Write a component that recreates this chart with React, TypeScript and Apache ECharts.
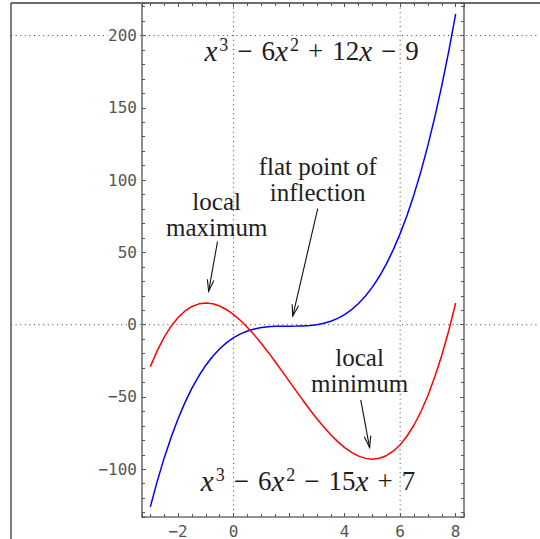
import React, { useEffect, useRef } from 'react';
import * as echarts from 'echarts';

// Sample abscissae and the two cubic curves evaluated at them
const xs = [
  -3, -2.75, -2.5, -2.25, -2, -1.75, -1.5, -1.25, -1, -0.75, -0.5, -0.25, 0, 0.25, 0.5, 0.75,
  1, 1.25, 1.5, 1.75, 2, 2.25, 2.5, 2.75, 3, 3.25, 3.5, 3.75, 4, 4.25, 4.5, 4.75, 5, 5.25, 5.5,
  5.75, 6, 6.25, 6.5, 6.75, 7, 7.25, 7.5, 7.75, 8,
];
// x^3 - 6x^2 + 12x - 9
const blueValues = [
  -126, -108.17, -92.13, -77.77, -65, -53.73, -43.88, -35.33, -28, -21.8, -16.63, -12.39, -9,
  -6.36, -4.38, -2.95, -2, -1.42, -1.13, -1.02, -1, -0.98, -0.88, -0.58, 0, 0.95, 2.38, 4.36, 7,
  10.39, 14.63, 19.8, 26, 33.33, 41.88, 51.73, 63, 75.77, 90.13, 106.17, 124, 143.7, 165.38,
  189.11, 215,
];
// x^3 - 6x^2 - 15x + 7
const redValues = [
  -29, -17.92, -8.63, -1.02, 5, 9.52, 12.63, 14.42, 15, 14.45, 12.88, 10.36, 7, 2.89, -1.88, -7.2,
  -13, -19.17, -25.63, -32.27, -39, -45.73, -52.38, -58.83, -65, -70.8, -76.13, -80.89, -85,
  -88.36, -90.88, -92.45, -93, -92.42, -90.63, -87.52, -83, -76.98, -69.38, -60.08, -49, -36.05,
  -21.13, -4.15, 15,
];

const xRange = [-3.3, 8.3];
const yRange = [-133, 222.5];
const xStep = 2;
const yStep = 50;
const hiddenXLabels = [2];
const guideXs = [0, 6];
const guideYs = [0, 200];

// Formula captions (rich text) and where they sit, in data coordinates
const formulaTexts = [
  '{i|x}{s|3}{o|\u2212}{n|6}{i|x}{s|2}{o|+}{n|12}{i|x}{o|\u2212}{n|9}',
  '{i|x}{s|3}{o|\u2212}{n|6}{i|x}{s|2}{o|\u2212}{n|15}{i|x}{o|+}{n|7}',
];
const formulaAt = [
  [2.81, 189.4],
  [2.68, -107.8],
];

// Annotations: text block centre, arrow tail and arrow tip, in data coordinates
const noteTexts = ['local\nmaximum', 'flat point of\ninflection', 'local\nminimum'];
const noteAt = [
  [-0.61, 76.1],
  [3.03, 100.2],
  [4.54, -31.7],
];
const arrowFrom = [
  [-0.58, 57.5],
  [3.03, 80.2],
  [4.58, -52.0],
];
const arrowTo = [
  [-0.9, 23.1],
  [2.13, 5.9],
  [4.9, -85.0],
];

const W = 540;
const H = 539;
const SERIF = '"Liberation Serif", "Times New Roman", serif';
const MONO = '"DejaVu Sans Mono", monospace';

const minus = (v: number) => (v < 0 ? '\u2212' + Math.abs(v) : String(v));
const isMultiple = (v: number, step: number) => Math.abs(v / step - Math.round(v / step)) < 1e-6;

export default function App() {
  const ref = useRef<HTMLDivElement>(null);

  useEffect(() => {
    const el = ref.current;
    if (!el) return;
    const chart = echarts.init(el, null, { renderer: 'svg', width: W, height: H });

    const frameLine = { show: true, onZero: false, lineStyle: { color: '#707070', width: 1.6 } };
    const tick = { show: true, inside: true, length: 4, lineStyle: { color: '#555', width: 1 } };
    const minorX = { show: true, splitNumber: 4, length: 3, lineStyle: { color: '#555', width: 1 } };
    const minorY = { show: true, splitNumber: 5, length: 3, lineStyle: { color: '#555', width: 1 } };
    const labelFont = { fontFamily: MONO, fontSize: 16, color: '#555' };

    const xAxisBase = {
      type: 'value',
      min: xRange[0],
      max: xRange[1],
      splitNumber: 6,
      axisLine: frameLine,
      axisTick: tick,
      minorTick: minorX,
      splitLine: { show: false },
      z: 5,
    };
    const yAxisBase = {
      type: 'value',
      min: yRange[0],
      max: yRange[1],
      splitNumber: 7,
      axisLine: frameLine,
      axisTick: tick,
      minorTick: minorY,
      splitLine: { show: false },
      z: 5,
    };

    chart.setOption({
      animation: false,
      backgroundColor: '#fff',
      grid: { left: 142, right: 76, top: 3, bottom: 20, containLabel: false },
      xAxis: [
        {
          ...xAxisBase,
          position: 'bottom',
          axisLabel: {
            ...labelFont,
            margin: 6,
            formatter: (v: number) =>
              isMultiple(v, xStep) && !hiddenXLabels.includes(v) ? minus(v) : '',
          },
        },
        { ...xAxisBase, position: 'top', axisLabel: { show: false } },
      ],
      yAxis: [
        {
          ...yAxisBase,
          position: 'left',
          axisLabel: {
            ...labelFont,
            margin: 5,
            backgroundColor: '#fff',
            formatter: (v: number) => (isMultiple(v, yStep) ? minus(v) : ''),
          },
        },
        { ...yAxisBase, position: 'right', axisLabel: { show: false } },
      ],
      series: [
        {
          type: 'line',
          name: 'x^3 - 6x^2 + 12x - 9',
          data: xs.map((x, i) => [x, blueValues[i]]),
          showSymbol: false,
          lineStyle: { color: '#0000ff', width: 1.5 },
          z: 3,
        },
        {
          type: 'line',
          name: 'x^3 - 6x^2 - 15x + 7',
          data: xs.map((x, i) => [x, redValues[i]]),
          showSymbol: false,
          lineStyle: { color: '#ff0000', width: 1.5 },
          z: 3,
        },
      ],
    });

    const toPx = (p: number[]) =>
      chart.convertToPixel({ xAxisIndex: 0, yAxisIndex: 0 }, p) as number[];

    const dotted = { stroke: '#444', lineWidth: 1, lineDash: [1, 3.6] };
    const elements: any[] = [];

    // outer frame (left and top edges)
    elements.push({ type: 'line', z: 1, shape: { x1: 11, y1: 3, x2: 11, y2: H }, style: { stroke: '#3a3a3a', lineWidth: 1.3 } });
    elements.push({ type: 'line', z: 1, shape: { x1: 11, y1: 3, x2: W, y2: 3 }, style: { stroke: '#3a3a3a', lineWidth: 1.3 } });

    guideYs.forEach((g) => {
      const y = toPx([0, g])[1];
      elements.push({ type: 'line', z: 1, shape: { x1: 11, y1: y, x2: W, y2: y }, style: dotted });
    });
    guideXs.forEach((g) => {
      const top = toPx([g, yRange[1]]);
      const bot = toPx([g, yRange[0]]);
      elements.push({ type: 'line', z: 1, shape: { x1: top[0], y1: top[1], x2: bot[0], y2: bot[1] }, style: dotted });
    });

    const ink = '#1e1e1e';
    const mathRich = {
      i: { fontFamily: SERIF, fontStyle: 'italic', fontSize: 29, lineHeight: 30, fill: ink },
      n: { fontFamily: SERIF, fontSize: 27, lineHeight: 30, fill: ink },
      o: { fontFamily: SERIF, fontSize: 27, lineHeight: 30, padding: [0, 9], fill: ink },
      s: { fontFamily: SERIF, fontSize: 18, lineHeight: 16, padding: [0, 0, 0, 2], verticalAlign: 'top', fill: ink },
    };

    formulaTexts.forEach((t, k) => {
      const [x, y] = toPx(formulaAt[k]);
      elements.push({
        type: 'text',
        z: 6,
        x,
        y,
        style: {
          text: t,
          rich: mathRich,
          align: 'center',
          verticalAlign: 'middle',
          textAlign: 'center',
          textVerticalAlign: 'middle',
        },
      });
    });

    noteTexts.forEach((t, k) => {
      const [x, y] = toPx(noteAt[k]);
      elements.push({
        type: 'text',
        z: 6,
        x,
        y,
        style: {
          text: t,
          fontFamily: SERIF,
          fontSize: 25,
          lineHeight: 26,
          fill: ink,
          align: 'center',
          verticalAlign: 'middle',
          textAlign: 'center',
          textVerticalAlign: 'middle',
        },
      });

      // arrow shaft and open arrowhead
      const a = toPx(arrowFrom[k]);
      const b = toPx(arrowTo[k]);
      const dx = b[0] - a[0];
      const dy = b[1] - a[1];
      const len = Math.hypot(dx, dy);
      const ux = dx / len;
      const uy = dy / len;
      const headLen = 12;
      const ang = (16 * Math.PI) / 180;
      const wing = (s: number) => {
        const c = Math.cos(s * ang);
        const sn = Math.sin(s * ang);
        const rx = ux * c - uy * sn;
        const ry = ux * sn + uy * c;
        return [b[0] - rx * headLen, b[1] - ry * headLen];
      };
      const arrowStyle = { stroke: '#111', lineWidth: 1.1, fill: 'none' };
      elements.push({ type: 'line', z: 6, shape: { x1: a[0], y1: a[1], x2: b[0], y2: b[1] }, style: arrowStyle });
      elements.push({ type: 'polyline', z: 6, shape: { points: [wing(1), b, wing(-1)] }, style: arrowStyle });
    });

    chart.setOption({ graphic: elements });

    return () => {
      chart.dispose();
    };
  }, []);

  return (
    <div
      ref={ref}
      style={{ position: 'absolute', left: 0, top: 0, width: W, height: H, background: '#fff' }}
    />
  );
}
